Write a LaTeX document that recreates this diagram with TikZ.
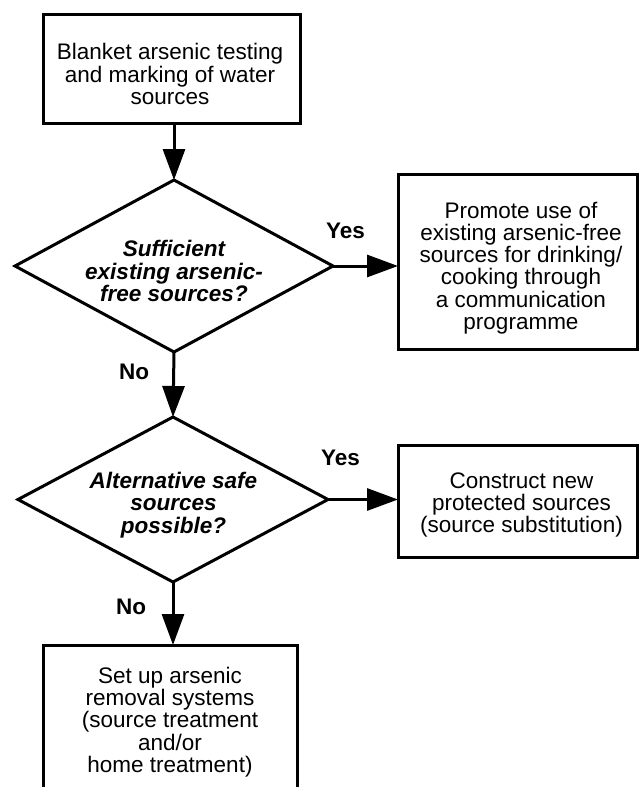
\documentclass[tikz,border=0pt]{standalone}
\usepackage{fontspec}
\setmainfont{Liberation Sans}
\usetikzlibrary{arrows.meta,shapes.geometric}
\tikzset{
  boxnode/.style={draw=black,line width=3pt,rectangle,inner sep=0pt,outer sep=0pt},
  decision/.style={draw=black,line width=3pt,diamond,inner sep=0pt,outer sep=0pt},
  bodytext/.style={align=center,inner sep=0pt,font=\fontsize{22.5}{22.3}\selectfont},
  qtext/.style={align=center,inner sep=0pt,font=\fontsize{22.5}{22.3}\selectfont\bfseries\itshape},
  yesno/.style={inner sep=0pt,font=\fontsize{22.5}{22.3}\selectfont\bfseries},
  flow/.style={line width=3pt,-{Triangle[length=31pt,width=22pt]}}
}
\begin{document}
\begin{tikzpicture}[x=1pt,y=-1pt]
\useasboundingbox (0,0) rectangle (639,787);
\clip (0,0) rectangle (639,787);
\fill[white] (0,0) rectangle (639,787);

% boxes
\node[boxnode,minimum width=257pt,minimum height=109pt] (b0) at (171.5,68.5) {};
\node[bodytext] (b0t) at (170,74) {Blanket arsenic testing\\and marking of water\\sources};

\node[decision,minimum width=318pt,minimum height=172pt] (d1) at (174,266) {};
\node[qtext] (d1t) at (174,271) {Sufficient\\existing arsenic-\\free sources?};

\node[boxnode,minimum width=239pt,minimum height=175pt] (b1) at (517.5,261.5) {};
\node[bodytext] (b1t) at (521,268) {Promote use of\\existing arsenic-free\\sources for drinking/\\cooking through\\a communication\\programme};

\node[decision,minimum width=310pt,minimum height=165pt] (d2) at (173,499.5) {};
\node[qtext] (d2t) at (173.5,505) {Alternative safe\\sources\\possible?};

\node[boxnode,minimum width=239pt,minimum height=112pt] (b2) at (517.5,501) {};
\node[bodytext] (b2t) at (521.5,505) {Construct new\\protected sources\\(source substitution)};

\node[boxnode,minimum width=254pt,minimum height=170pt] (b3) at (170,730) {};
\node[bodytext] (b3t) at (170,722) {Set up arsenic\\removal systems\\(source treatment\\and/or\\home treatment)};

% labels
\node[yesno] (y1) at (345.5,231) {Yes};
\node[yesno] (y2) at (340.5,458) {Yes};
\node[yesno] (n1) at (134,372) {No};
\node[yesno] (n2) at (131,607) {No};

% connectors
\draw[flow] (b0.south -| d1.north) -- (d1.north);
\draw[flow] (d1.east) -- (d1.east -| b1.west);
\draw[flow] (d1.south) -- (d2.north);
\draw[flow] (d2.east) -- (d2.east -| b2.west);
\draw[flow] (d2.south) -- (d2.south |- b3.north);
\end{tikzpicture}
\end{document}
